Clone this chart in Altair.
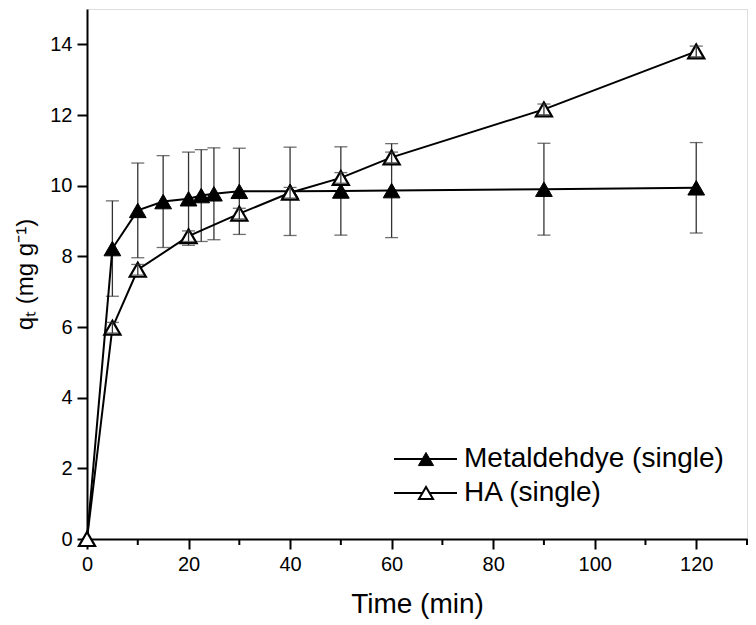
import altair as alt
import pandas as pd

# ---- data ----
time_met = [0, 5, 10, 15, 20, 22.5, 25, 30, 40, 50, 60, 90, 120]
qt_met = [0, 8.22, 9.30, 9.55, 9.63, 9.72, 9.77, 9.84, 9.84, 9.85, 9.86, 9.90, 9.94]
err_met = [0, 1.35, 1.34, 1.30, 1.32, 1.30, 1.30, 1.22, 1.25, 1.25, 1.33, 1.30, 1.28]

time_ha = [0, 5, 10, 20, 30, 40, 50, 60, 90, 120]
qt_ha = [0, 5.98, 7.62, 8.57, 9.21, 9.80, 10.22, 10.80, 12.16, 13.80]
err_ha = [0, 0.15, 0.15, 0.15, 0.15, 0.15, 0.15, 0.15, 0.15, 0.15]

legend_labels = ["Metaldehdye (single)", "HA (single)"]
x_ticks = [0, 20, 40, 60, 80, 100, 120]
x_minor = [10, 30, 50, 70, 90, 110, 130]
y_ticks = [0, 2, 4, 6, 8, 10, 12, 14]

FONT = "Liberation Sans"
W, H = 660, 530

met = pd.DataFrame({"t": time_met, "q": qt_met, "e": err_met})
met["lo"] = met["q"] - met["e"]
met["hi"] = met["q"] + met["e"]
ha = pd.DataFrame({"t": time_ha, "q": qt_ha, "e": err_ha})
ha["lo"] = ha["q"] - ha["e"]
ha["hi"] = ha["q"] + ha["e"]

xscale = alt.Scale(domain=[0, 130], nice=False, zero=False)
yscale = alt.Scale(domain=[0, 15], nice=False, zero=False)

x_axis = alt.Axis(values=x_ticks, title="Time (min)", grid=False,
                  tickSize=10, tickWidth=2, tickColor="black",
                  domainColor="black", domainWidth=2,
                  labelFont=FONT, labelFontSize=20, labelColor="black",
                  labelPadding=5, labelFlush=False, labelOverlap=False,
                  titleFont=FONT, titleFontSize=28, titleFontWeight="normal",
                  titleColor="black", titlePadding=16, format="d")
y_axis = alt.Axis(values=y_ticks, title="qₜ (mg g⁻¹)", grid=False,
                  tickSize=10, tickWidth=2, tickColor="black",
                  domainColor="black", domainWidth=2,
                  labelFont=FONT, labelFontSize=20, labelColor="black",
                  labelPadding=5, labelFlush=False, labelOverlap=False,
                  titleFont=FONT, titleFontSize=24, titleFontWeight="normal",
                  titleColor="black", titlePadding=12, format="d")

X = alt.X("t:Q", scale=xscale, axis=x_axis)
Y = alt.Y("q:Q", scale=yscale, axis=y_axis)


def errbars(df):
    d = df[df["e"] > 0]
    base = alt.Chart(d)
    rule = base.mark_rule(color="#333333", strokeWidth=1.3).encode(
        x=alt.X("t:Q", scale=xscale), y=alt.Y("lo:Q", scale=yscale), y2="hi:Q")
    cap_lo = base.mark_tick(color="#333333", orient="horizontal", size=13, thickness=1.3).encode(
        x=alt.X("t:Q", scale=xscale), y=alt.Y("lo:Q", scale=yscale))
    cap_hi = base.mark_tick(color="#333333", orient="horizontal", size=13, thickness=1.3).encode(
        x=alt.X("t:Q", scale=xscale), y=alt.Y("hi:Q", scale=yscale))
    return [rule, cap_lo, cap_hi]


line_met = alt.Chart(met).mark_line(color="black", strokeWidth=2).encode(x=X, y=Y)
line_ha = alt.Chart(ha).mark_line(color="black", strokeWidth=2).encode(x=X, y=Y)
pts_met = alt.Chart(met).mark_point(shape="triangle-up", filled=True, fill="black",
                                    stroke="black", strokeWidth=1, size=280, opacity=1).encode(x=X, y=Y)
pts_ha = alt.Chart(ha).mark_point(shape="triangle-up", filled=True, fill="white",
                                  stroke="black", strokeWidth=2.2, size=260, opacity=1).encode(x=X, y=Y)

minor = alt.Chart(pd.DataFrame({"t": x_minor})).mark_rule(color="black", strokeWidth=2).encode(
    x=alt.X("t:Q", scale=xscale), y=alt.value(H), y2=alt.value(H + 6))

# legend (custom, inside the plot)
leg_layers = []
row_y = [450, 484]
fills = ["black", "white"]
for lab, yy, fl in zip(legend_labels, row_y, fills):
    d = pd.DataFrame({"label": [lab]})
    leg_layers.append(alt.Chart(d).mark_rule(color="black", strokeWidth=2).encode(
        x=alt.value(307), x2=alt.value(370), y=alt.value(yy)))
    leg_layers.append(alt.Chart(d).mark_point(shape="triangle-up", filled=True, fill=fl,
                                              stroke="black", strokeWidth=2 if fl == "white" else 1,
                                              size=200 if fl == "white" else 230, opacity=1).encode(
        x=alt.value(339), y=alt.value(yy)))
    leg_layers.append(alt.Chart(d).mark_text(align="left", baseline="middle", font=FONT,
                                             fontSize=28, color="black").encode(
        x=alt.value(377), y=alt.value(yy), text="label:N"))

chart = alt.layer(
    *errbars(met), line_met, line_ha, pts_met, pts_ha, *errbars(ha), minor, *leg_layers
).properties(
    width=W, height=H,
    autosize=alt.AutoSizeParams(type="none"),
    padding={"left": 79, "top": 1, "right": 1, "bottom": 84},
).configure_view(stroke="black", strokeWidth=2).configure(background="white")

chart.save("out.html", embed_options={"renderer": "svg", "actions": False})
